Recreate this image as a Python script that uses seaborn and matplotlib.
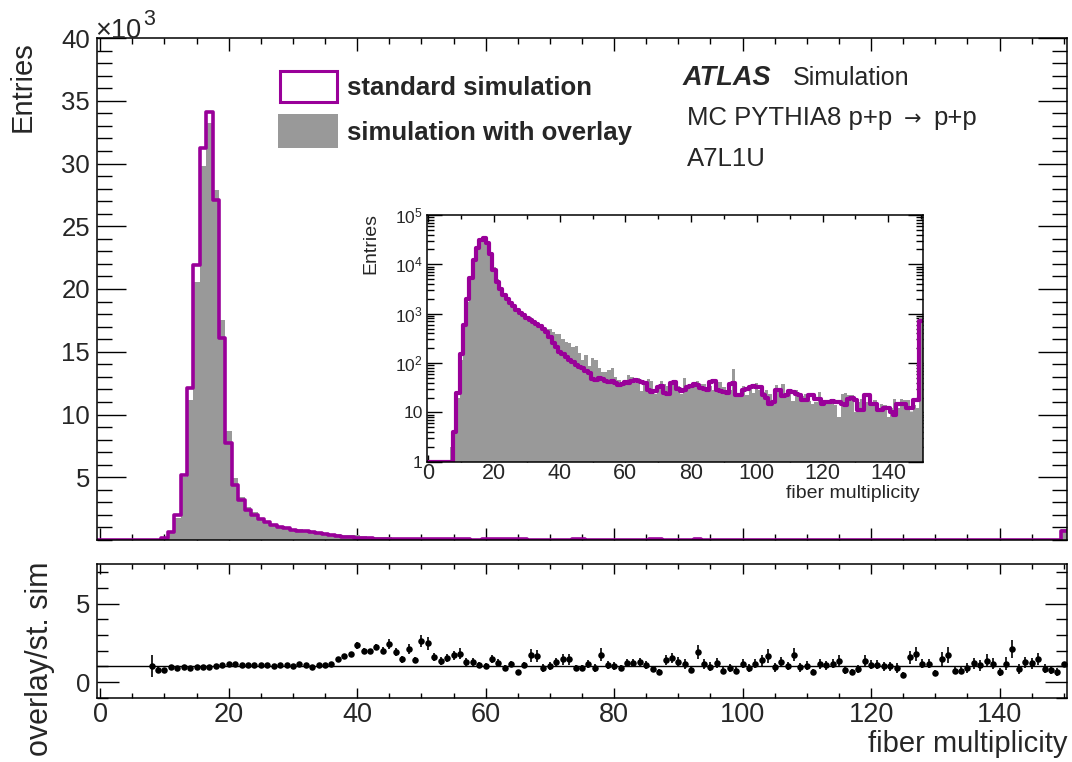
import numpy as np
import pandas as pd
import matplotlib
matplotlib.use('Agg')
import matplotlib.pyplot as plt
import seaborn as sns
from matplotlib.patches import Rectangle
from matplotlib.ticker import MultipleLocator, FixedLocator, FixedFormatter, LogLocator, NullFormatter

# fibre multiplicity bins (one bin per integer, last one collects the overflow)
multiplicity = np.arange(0, 151)

standard_sim = [
    0, 0, 0, 0, 0, 0, 0, 0, 4, 25,                                   # 0-9
    150, 600, 2000, 5200, 12100, 21900, 31200, 34100, 27100, 16100,  # 10-19
    7700, 4400, 3200, 2400, 2000, 1650, 1400, 1200, 1050, 920,       # 20-29
    820, 740, 680, 620, 560, 480, 430, 330, 260, 210,                # 30-39
    165, 150, 135, 115, 105, 92, 85, 80, 68, 62,                     # 40-49
    48, 46, 50, 48, 44, 42, 44, 40, 36, 38,                          # 50-59
    42, 40, 44, 46, 43, 42, 40, 28, 26, 27,                          # 60-69
    32, 34, 25, 24, 40, 42, 30, 27, 28, 33,                          # 70-79
    35, 37, 36, 31, 30, 29, 41, 43, 29, 27,                          # 80-89
    26, 25, 38, 40, 22, 23, 28, 30, 33, 34,                          # 90-99
    33, 32, 22, 20, 15, 16, 28, 29, 21, 22,                          # 100-109
    27, 26, 24, 23, 18, 18, 22, 23, 19, 19,                          # 110-119
    15, 16, 16, 17, 16, 16, 15, 14, 19, 20,                          # 120-129
    18, 11, 11, 22, 22, 15, 15, 11, 11, 12,                          # 130-139
    12, 10, 9, 15, 15, 15, 12, 12, 18, 18,                           # 140-149
    720]

overlay_sim = [
    0, 0, 0, 0, 0, 0, 0, 2, 4, 20,
    113, 560, 1740, 4990, 11130, 20590, 29800, 33200, 27900, 17500,
    8700, 4970, 3390, 2640, 2200, 1780, 1485, 1200, 1113, 975,
    853, 851, 748, 583, 594, 530, 495, 480, 425, 380,
    385, 300, 265, 258, 210, 222, 162, 115, 143, 86,
    126, 114, 79, 65, 67, 71, 79, 51, 46, 42,
    44, 58, 53, 40, 50, 27, 44, 47, 43, 24,
    33, 43, 37, 35, 36, 38, 35, 24, 49, 36,
    36, 32, 44, 38, 38, 32, 34, 28, 41, 41,
    33, 29, 29, 76, 25, 23, 34, 22, 30, 25,
    39, 29, 26, 28, 24, 15, 36, 29, 37, 21,
    28, 17, 28, 24, 21, 24, 17, 15, 16, 26,
    17, 18, 16, 17, 14, 8, 24, 25, 22, 23,
    10, 16, 19, 16, 16, 14, 18, 12, 15, 14,
    8, 12, 19, 12, 19, 18, 18, 10, 14, 12,
    842]

# ratio overlay / standard, bins 8..150
ratio_bins = np.arange(8, 151)
ratio_vals = [
    1.04, 0.79,
    0.75, 0.94, 0.87, 0.96, 0.92, 0.94, 0.96, 0.98, 1.04, 1.10,
    1.15, 1.13, 1.06, 1.10, 1.10, 1.08, 1.06, 1.00, 1.06, 1.06,
    1.04, 1.15, 1.10, 0.94, 1.06, 1.10, 1.15, 1.46, 1.63, 1.80,
    2.33, 1.99, 1.95, 2.24, 2.00, 2.41, 1.90, 1.44, 2.10, 1.38,
    2.62, 2.47, 1.57, 1.36, 1.53, 1.69, 1.80, 1.27, 1.27, 1.10,
    1.04, 1.46, 1.21, 0.87, 1.17, 0.64, 1.10, 1.69, 1.67, 0.90,
    1.04, 1.27, 1.46, 1.46, 0.90, 0.90, 1.17, 0.90, 1.74, 1.10,
    1.04, 0.87, 1.21, 1.21, 1.27, 1.10, 0.83, 0.64, 1.40, 1.53,
    1.27, 1.15, 0.77, 1.90, 1.15, 0.98, 1.21, 0.73, 0.90, 0.73,
    1.17, 0.90, 1.17, 1.40, 1.63, 0.94, 1.27, 1.00, 1.74, 0.94,
    1.04, 0.64, 1.15, 1.06, 1.17, 1.36, 0.79, 0.64, 0.83, 1.36,
    1.10, 1.10, 1.00, 1.00, 0.90, 0.47, 1.57, 1.80, 1.17, 1.17,
    0.56, 1.48, 1.74, 0.73, 0.73, 0.90, 1.21, 1.06, 1.36, 1.15,
    0.64, 1.17, 2.10, 0.83, 1.27, 1.21, 1.48, 0.85, 0.75, 0.64,
    1.17]
ratio_errs = [
    0.70, 0.20,
    0.08, 0.05, 0.03, 0.02, 0.02, 0.02, 0.02, 0.02, 0.02, 0.02,
    0.02, 0.02, 0.02, 0.02, 0.02, 0.02, 0.02, 0.02, 0.02, 0.02,
    0.03, 0.03, 0.03, 0.03, 0.03, 0.04, 0.05, 0.08, 0.10, 0.12,
    0.20, 0.15, 0.17, 0.20, 0.20, 0.30, 0.25, 0.20, 0.30, 0.20,
    0.40, 0.40, 0.25, 0.25, 0.25, 0.30, 0.35, 0.25, 0.25, 0.20,
    0.20, 0.25, 0.25, 0.20, 0.20, 0.15, 0.20, 0.40, 0.40, 0.25,
    0.25, 0.25, 0.35, 0.35, 0.20, 0.20, 0.25, 0.25, 0.40, 0.25,
    0.25, 0.20, 0.25, 0.25, 0.25, 0.25, 0.20, 0.18, 0.30, 0.35,
    0.30, 0.30, 0.20, 0.45, 0.30, 0.30, 0.30, 0.20, 0.25, 0.20,
    0.30, 0.25, 0.30, 0.35, 0.45, 0.30, 0.30, 0.25, 0.40, 0.30,
    0.30, 0.20, 0.30, 0.30, 0.30, 0.35, 0.25, 0.20, 0.25, 0.35,
    0.30, 0.30, 0.30, 0.30, 0.30, 0.15, 0.40, 0.45, 0.30, 0.30,
    0.20, 0.45, 0.50, 0.25, 0.25, 0.30, 0.35, 0.35, 0.40, 0.35,
    0.25, 0.40, 0.60, 0.30, 0.35, 0.35, 0.40, 0.30, 0.25, 0.25,
    0.10]

main_yticks = [5000, 10000, 15000, 20000, 25000, 30000, 35000, 40000]
main_ylabels = ['5', '10', '15', '20', '25', '30', '35', '40']
inset_yticks = [1, 10, 100, 1000, 10000, 100000]
inset_ylabels = ['1', '10', '$10^{2}$', '$10^{3}$', '$10^{4}$', '$10^{5}$']

PURPLE = '#990099'
GRAY = '#999999'
W, H = 1072, 762

sns.set_style('ticks')
plt.rcParams['font.family'] = ['Liberation Sans', 'DejaVu Sans']
plt.rcParams['mathtext.fontset'] = 'custom'
plt.rcParams['mathtext.rm'] = 'Liberation Sans'
plt.rcParams['mathtext.it'] = 'Liberation Sans:italic'
plt.rcParams['mathtext.bf'] = 'Liberation Sans:bold'

hist = pd.DataFrame({
    'multiplicity': multiplicity,
    'standard': standard_sim,
    'overlay': overlay_sim,
})
# log inset: empty bins of the outline sit on the bottom edge (1 entry)
hist['standard_log'] = hist['standard'].clip(lower=1)
ratio = pd.DataFrame({'multiplicity': ratio_bins, 'ratio': ratio_vals, 'err': ratio_errs})


def fx(px):
    return px / W


def fy(py):
    return 1 - py / H


edges = list(np.arange(-0.5, 151.5, 1.0))

fig = plt.figure(figsize=(W / 100, H / 100), dpi=100)
ax = fig.add_axes([fx(97), fy(540), fx(970), 502 / H])
axr = fig.add_axes([fx(97), fy(697.7), fx(970), 133.4 / H])
axi = fig.add_axes([fx(426.7), fy(461.7), fx(496), 246.7 / H])


def frame(a, lw=1.1):
    for s in a.spines.values():
        s.set_visible(True)
        s.set_linewidth(lw)
        s.set_color('black')
    a.tick_params(which='both', direction='in', top=True, right=True,
                  bottom=True, left=True, width=1.0, color='black')


# ---- main panel
sns.histplot(data=hist, x='multiplicity', weights='overlay', bins=edges, element='step',
             fill=True, color=GRAY, alpha=1, linewidth=0, ax=ax)
sns.histplot(data=hist, x='multiplicity', weights='standard', bins=edges, element='step',
             fill=False, color=PURPLE, linewidth=2.6, ax=ax)
ax.set_xlim(-0.5, 150.5)
ax.set_ylim(0, 40000)
ax.set_xlabel('')
ax.set_ylabel('')
frame(ax)
ax.xaxis.set_major_locator(MultipleLocator(20))
ax.xaxis.set_minor_locator(MultipleLocator(5))
ax.yaxis.set_major_locator(FixedLocator(main_yticks))
ax.yaxis.set_major_formatter(FixedFormatter(main_ylabels))
ax.yaxis.set_minor_locator(MultipleLocator(1000))
ax.tick_params(axis='x', labelbottom=False)
ax.tick_params(axis='x', which='major', length=9)
ax.tick_params(axis='x', which='minor', length=4.5)
ax.tick_params(axis='y', which='major', length=21, labelsize=18.5, pad=5)
ax.tick_params(axis='y', which='minor', length=10.5)

# ---- inset (log scale)
sns.histplot(data=hist, x='multiplicity', weights='overlay', bins=edges, element='step',
             fill=True, color=GRAY, alpha=1, linewidth=0, ax=axi)
sns.histplot(data=hist, x='multiplicity', weights='standard_log', bins=edges,
             element='step', fill=False, color=PURPLE, linewidth=3.0, ax=axi)
axi.set_yscale('log')
axi.set_xlim(-0.5, 150.5)
axi.set_ylim(1, 1e5)
axi.set_xlabel('')
axi.set_ylabel('')
axi.set_facecolor('white')
frame(axi)
axi.xaxis.set_major_locator(MultipleLocator(20))
axi.xaxis.set_minor_locator(MultipleLocator(10))
axi.yaxis.set_major_locator(FixedLocator(inset_yticks))
axi.yaxis.set_major_formatter(FixedFormatter(inset_ylabels))
axi.yaxis.set_minor_locator(LogLocator(base=10, subs=np.arange(2, 10)))
axi.yaxis.set_minor_formatter(NullFormatter())
axi.tick_params(axis='x', which='major', length=5, labelsize=15.5, pad=1)
axi.tick_params(axis='x', which='minor', length=3)
axi.tick_params(axis='y', which='major', length=11, labelsize=12.5, pad=3)
axi.tick_params(axis='y', which='minor', length=5)

# ---- ratio panel
axr.axhline(1, color='black', linewidth=1.0)
axr.errorbar(ratio['multiplicity'], ratio['ratio'], yerr=ratio['err'], fmt='none',
             ecolor='black', elinewidth=1.2, capsize=0)
sns.scatterplot(data=ratio, x='multiplicity', y='ratio', color='black', s=22,
                linewidth=0, ax=axr, zorder=3)
axr.set_xlim(-0.5, 150.5)
axr.set_ylim(-1, 7.5)
axr.set_xlabel('')
axr.set_ylabel('')
frame(axr)
axr.xaxis.set_major_locator(MultipleLocator(20))
axr.xaxis.set_minor_locator(MultipleLocator(5))
axr.yaxis.set_major_locator(MultipleLocator(5))
axr.yaxis.set_minor_locator(MultipleLocator(1))
axr.tick_params(axis='x', which='major', length=7, labelsize=19.5, pad=3)
axr.tick_params(axis='x', which='minor', length=3.5)
axr.tick_params(axis='y', which='major', length=16, labelsize=18.5, pad=5)
axr.tick_params(axis='y', which='minor', length=8)

# ---- axis titles and annotations
fig.text(fx(23), fy(41), 'Entries', rotation=90, ha='center', va='top', fontsize=21)
fig.text(fx(95), fy(38), '×10', ha='left', va='baseline', fontsize=19.5)
fig.text(fx(143), fy(25), '3', ha='left', va='baseline', fontsize=15.5)
fig.text(fx(40), fy(561), 'overlay/st. sim', rotation=90, ha='center', va='top', fontsize=22)
fig.text(fx(1068), fy(752), 'fiber multiplicity', ha='right', va='baseline', fontsize=21)
fig.text(fx(371), fy(213), 'Entries', rotation=90, ha='center', va='top', fontsize=14)
fig.text(fx(920), fy(498), 'fiber multiplicity', ha='right', va='baseline', fontsize=14)

fig.text(fx(683), fy(85), 'ATLAS', ha='left', va='baseline', fontsize=19.5,
         fontweight='bold', fontstyle='italic')
fig.text(fx(793), fy(85), 'Simulation', ha='left', va='baseline', fontsize=18)
fig.text(fx(687), fy(125), 'MC PYTHIA8 p+p', ha='left', va='baseline', fontsize=18.5)
fig.text(fx(904), fy(125), '\u2192', ha='left', va='baseline', fontsize=15,
         family='DejaVu Sans')
fig.text(fx(933), fy(125), 'p+p', ha='left', va='baseline', fontsize=18.5)
fig.text(fx(687), fy(166), 'A7L1U', ha='left', va='baseline', fontsize=18.5)

# legend boxes
fig.patches.append(Rectangle((fx(279.5), fy(101.5)), fx(57), 31 / H, transform=fig.transFigure,
                             facecolor='white', edgecolor=PURPLE, linewidth=2.2))
fig.patches.append(Rectangle((fx(278), fy(147.5)), fx(60), 33.5 / H, transform=fig.transFigure,
                             facecolor=GRAY, edgecolor='none'))
fig.text(fx(347), fy(95), 'standard simulation', ha='left', va='baseline',
         fontsize=18.5, fontweight='bold')
fig.text(fx(347), fy(140), 'simulation with overlay', ha='left', va='baseline',
         fontsize=18.5, fontweight='bold')

fig.savefig('out.png', dpi=100)
